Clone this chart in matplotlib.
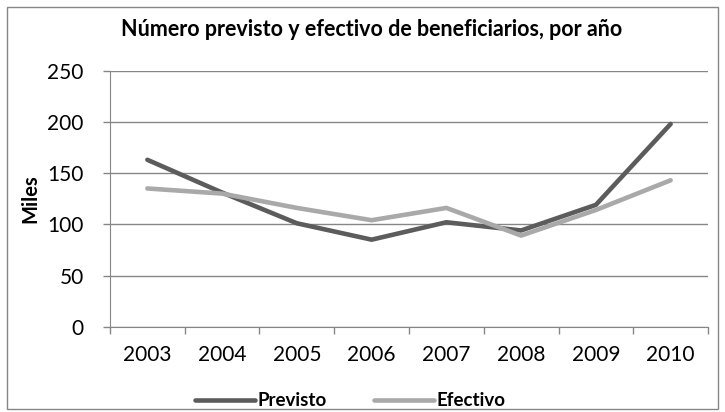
import matplotlib
matplotlib.use("Agg")
import matplotlib.pyplot as plt
from matplotlib.patches import Rectangle

# Data (thousands)
years = ["2003", "2004", "2005", "2006", "2007", "2008", "2009", "2010"]
previsto = [163, 131, 101, 85, 102, 94, 119, 198]
efectivo = [135, 130, 116, 104, 116, 89, 114, 143]

plt.rcParams['font.family'] = ['Lato', 'DejaVu Sans']

fig = plt.figure(figsize=(7.25, 4.12), dpi=100)
ax = fig.add_axes([0.1517, 0.207, 0.8249, 0.6214])

x = list(range(len(years)))
ax.plot(x, previsto, color='#5c5c5c', lw=3.3, solid_capstyle='round', label='Previsto')
ax.plot(x, efectivo, color='#a9a9a9', lw=3.3, solid_capstyle='round', label='Efectivo')

ax.set_xlim(-0.5, len(years) - 0.5)
ax.set_ylim(0, 250)
ax.set_yticks(range(0, 251, 50))
ax.set_xticks([i + 0.5 for i in range(-1, len(years))])
ax.set_xticklabels([])
ax.set_xticks(x, minor=True)
ax.set_xticklabels(years, minor=True)
ax.tick_params(axis='x', which='minor', length=0, pad=13, labelsize=15)
ax.tick_params(axis='x', which='major', length=5, color='#868686', width=1)
ax.tick_params(axis='y', length=5, color='#868686', width=1, labelsize=15, pad=14)

ax.grid(axis='y', color='#868686', lw=1)
ax.set_axisbelow(True)
for s in ['top', 'right']:
    ax.spines[s].set_visible(False)
for s in ['left', 'bottom']:
    ax.spines[s].set_color('#868686')

ax.set_ylabel('Miles', fontsize=14.5, fontweight='bold', labelpad=5)

fig.text(0.512, 0.929, 'Número previsto y efectivo de beneficiarios, por año',
         ha='center', va='center', fontsize=15.5, fontweight='bold')

leg = fig.legend(loc='center', bbox_to_anchor=(0.483, 0.027), ncol=2, frameon=False,
                 handlelength=3.2, handletextpad=0.15, columnspacing=2.5,
                 prop={'weight': 'bold', 'size': 13.5})

# outer chart border
fig.patches.append(Rectangle((0.01, 0.008), 0.98, 0.975, transform=fig.transFigure,
                             fill=False, edgecolor='#868686', lw=1))

fig.savefig('out.png', dpi=100)
